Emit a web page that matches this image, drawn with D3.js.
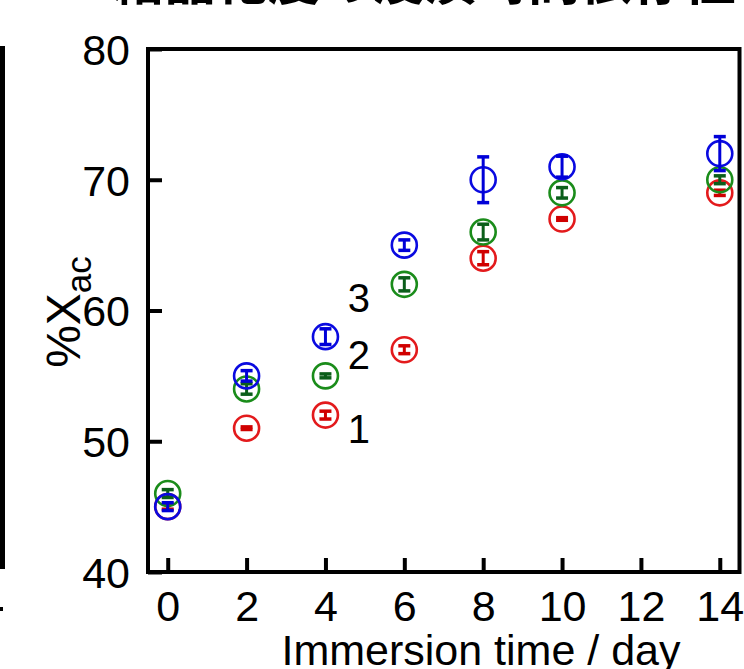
<!DOCTYPE html>
<html><head><meta charset="utf-8">
<script src="https://cdn.jsdelivr.net/npm/d3@7"></script>
<style>body{margin:0;background:#fff}svg{display:block}</style>
</head><body>
<script>
const days = [0, 2, 4, 6, 8, 10, 14];
const xTicks = [0, 2, 4, 6, 8, 10, 12, 14];
const yTicks = [40, 50, 60, 70, 80];
const series1 = [45, 51, 52, 57, 64, 67, 69];
const err1 = [0.2, 0.1, 0.3, 0.3, 0.5, 0.1, 0.2];
const series2 = [46, 54, 55, 62, 66, 69, 70];
const err2 = [0.3, 0.4, 0.15, 0.5, 0.6, 0.4, 0.3];
const series3 = [45, 55, 58, 65, 70, 71, 72];
const err3 = [0.3, 0.4, 0.6, 0.4, 1.75, 0.8, 1.3];
const seriesNames = ["1", "2", "3"];
const labelPos = [[4.85, 51.0], [4.85, 56.6], [4.85, 61.0]];
const xTitle = "Immersion time / day";
const title = "結晶化度の浸漬時間依存性";

const W = 744, H = 669;
const svg = d3.select("body").append("svg").attr("width", W).attr("height", H)
  .style("font-family", "'Liberation Sans', Arial, sans-serif");

const x = d3.scaleLinear().domain([-0.5, 14.5]).range([148, 739.5]);
const y = d3.scaleLinear().domain([40, 80]).range([572, 49]);

// cut-off title
svg.append("text").attr("x", 112).attr("y", 0)
  .style("font-family", "'Noto Sans CJK JP', sans-serif")
  .style("font-size", "52px").style("font-weight", "bold")
  .text(title);

// neighbouring panel edge
svg.append("rect").attr("x", 0).attr("y", 46).attr("width", 5).attr("height", 523).attr("fill", "#000");
svg.append("rect").attr("x", 0).attr("y", 607).attr("width", 3).attr("height", 4).attr("fill", "#000");

// axes
const fs = "43px";
const gx = svg.append("g").attr("transform", `translate(0,${y.range()[0]})`)
  .call(d3.axisBottom(x).tickValues(xTicks).tickSize(-14).tickPadding(18).tickFormat(d3.format("d")));
const gy = svg.append("g").attr("transform", `translate(${x.range()[0]},0)`)
  .call(d3.axisLeft(y).tickValues(yTicks).tickSize(-14).tickPadding(18).tickFormat(d3.format("d")));
[gx, gy].forEach(g => {
  g.select(".domain").remove();
  g.selectAll("line").attr("stroke", "#000").attr("stroke-width", 4);
  g.selectAll("text").attr("fill", "#000").style("font-size", fs)
    .style("font-family", "'Liberation Sans', Arial, sans-serif");
});
gy.selectAll("text").attr("dy", "0.36em");

svg.append("rect").attr("x", x.range()[0]).attr("y", y.range()[1])
  .attr("width", x.range()[1] - x.range()[0]).attr("height", y.range()[0] - y.range()[1])
  .attr("fill", "none").attr("stroke", "#000").attr("stroke-width", 4);

// axis titles
svg.append("text").attr("x", 481).attr("y", 665)
  .attr("text-anchor", "middle").style("font-size", fs).text(xTitle);

const yt = svg.append("text").attr("transform", "translate(80,312) rotate(-90)")
  .attr("text-anchor", "middle").style("font-size", "48px");
yt.append("tspan").text("%X");
yt.append("tspan").attr("dy", "0.3em").style("font-size", "35px").text("ac");

// data
const sets = [
  {v: series1, e: err1, c: "#e31a1c", ec: "#d00000"},
  {v: series2, e: err2, c: "#1a8c1a", ec: "#0b5e1a"},
  {v: series3, e: err3, c: "#0a0ae0", ec: "#0000d8"}
];
const r = 12.5, cap = 6;
sets.forEach(s => {
  const g = svg.append("g");
  days.forEach((d, i) => {
    const cx = x(d), v = s.v[i], e = s.e[i];
    g.append("circle").attr("cx", cx).attr("cy", y(v)).attr("r", r)
      .attr("fill", "none").attr("stroke", s.c).attr("stroke-width", 2.6);
    g.append("line").attr("x1", cx).attr("x2", cx).attr("y1", y(v - e)).attr("y2", y(v + e))
      .attr("stroke", s.ec).attr("stroke-width", 3);
    [v - e, v + e].forEach(t => g.append("line").attr("x1", cx - cap).attr("x2", cx + cap)
      .attr("y1", y(t)).attr("y2", y(t)).attr("stroke", s.ec).attr("stroke-width", 3.5));
  });
});

// series labels
seriesNames.forEach((n, i) => {
  svg.append("text").attr("x", x(labelPos[i][0])).attr("y", y(labelPos[i][1]))
    .attr("dy", "0.36em").attr("text-anchor", "middle").style("font-size", "40px").text(n);
});
</script>
</body></html>
